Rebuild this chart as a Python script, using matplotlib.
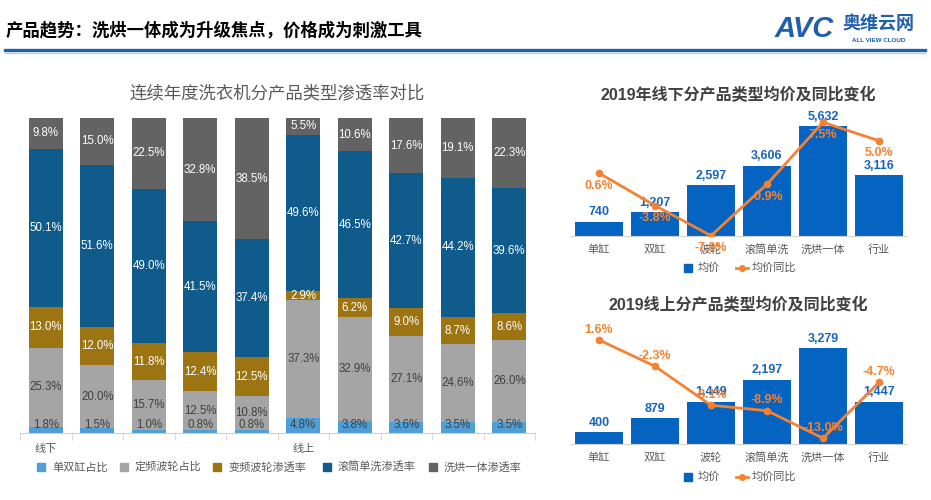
import matplotlib
matplotlib.use('Agg')
import matplotlib.pyplot as plt
from matplotlib.patches import Rectangle
from matplotlib.lines import Line2D

plt.rcParams['font.family'] = ['Liberation Sans', 'Noto Sans CJK SC']

# ---------------- data ----------------
groups = ['线下', '', '', '', '', '线上', '', '', '', '']
series_names = ['单双缸占比', '定频波轮占比', '变频波轮渗透率', '滚筒单洗渗透率', '洗烘一体渗透率']
twin_tub = [1.8, 1.5, 1.0, 0.8, 0.8, 4.8, 3.8, 3.6, 3.5, 3.5]
fixed_pulsator = [25.3, 20.0, 15.7, 12.5, 10.8, 37.3, 32.9, 27.1, 24.6, 26.0]
inverter_pulsator = [13.0, 12.0, 11.8, 12.4, 12.5, 2.9, 6.2, 9.0, 8.7, 8.6]
drum_wash = [50.1, 51.6, 49.0, 41.5, 37.4, 49.6, 46.5, 42.7, 44.2, 39.6]
washer_dryer = [9.8, 15.0, 22.5, 32.8, 38.5, 5.5, 10.6, 17.6, 19.1, 22.3]

price_cats = ['单缸', '双缸', '波轮', '滚筒单洗', '洗烘一体', '行业']
offline_price = [740, 1207, 2597, 3606, 5632, 3116]
offline_yoy = [0.6, -3.8, -7.9, -0.9, 7.5, 5.0]
online_price = [400, 879, 1449, 2197, 3279, 1447]
online_yoy = [1.6, -2.3, -8.1, -8.9, -13.0, -4.7]

W, H = 931, 500
fig = plt.figure(figsize=(W / 100, H / 100), dpi=100)
fig.patch.set_facecolor('white')


def fx(x):
    return x / W


def fy(y):
    return 1 - y / H


# ---------------- header ----------------
fig.text(fx(6), fy(30), '产品趋势：洗烘一体成为升级焦点，价格成为刺激工具',
         fontsize=12.5, fontweight='bold', color='black', ha='left', va='center')
fig.add_artist(Line2D([fx(5), fx(925)], [fy(50), fy(50)], color='#1F5FAD', lw=2.4))
fig.add_artist(Line2D([fx(5), fx(925)], [fy(52.5), fy(52.5)], color='#B8CDE8', lw=1.0))
fig.text(fx(775), fy(29), 'AVC', fontsize=21, fontweight='bold', fontstyle='italic',
         color='#1F5FAD', ha='left', va='center')
fig.text(fx(842), fy(24), '奥维云网', fontsize=13, fontweight='bold',
         color='#1F5FAD', ha='left', va='center')
fig.text(fx(852), fy(41), 'ALL VIEW CLOUD', fontsize=4.5, fontweight='bold',
         color='#1F5FAD', ha='left', va='center')

# ---------------- main stacked chart ----------------
colors = ['#4E9FD8', '#A5A5A5', '#9C7412', '#0F5B8C', '#636363']
label_colors = ['#404040', '#404040', 'white', 'white', 'white']
series = [twin_tub, fixed_pulsator, inverter_pulsator, drum_wash, washer_dryer]

ax = fig.add_axes([fx(20), fy(433), 515 / W, 315 / H])
x = list(range(len(groups)))
bottom = [0.0] * len(groups)
for si, (vals, c) in enumerate(zip(series, colors)):
    ax.bar(x, vals, bottom=bottom, width=0.66, color=c, zorder=2)
    for i, v in enumerate(vals):
        yc = bottom[i] + v / 2
        if si == 0:
            yc = max(v / 2, 2.6)
        ax.text(i, yc, f'{v:.1f}%', ha='center', va='center', fontsize=8.3,
                color=label_colors[si], zorder=3)
    bottom = [b + v for b, v in zip(bottom, vals)]

ax.set_xlim(-0.5, len(groups) - 0.5)
ax.set_ylim(0, 100)
for s in ['top', 'right', 'left']:
    ax.spines[s].set_visible(False)
ax.spines['bottom'].set_color('#D0D0D0')
ax.set_yticks([])
ax.set_xticks(x)
ax.set_xticklabels(groups, fontsize=8, color='#595959')
ax.tick_params(axis='x', length=0, pad=8)
ax.set_xticks([i - 0.5 for i in range(len(groups) + 1)], minor=True)
ax.tick_params(axis='x', which='minor', length=5, color='#D0D0D0')

fig.text(fx(277), fy(93), '连续年度洗衣机分产品类型渗透率对比', fontsize=12.5,
         color='#595959', ha='center', va='center')

leg_x = [37, 120, 213, 323, 429]
for lx, name, c in zip(leg_x, series_names, colors):
    fig.add_artist(Rectangle((fx(lx), fy(471)), 8 / W, 8 / H, color=c,
                             transform=fig.transFigure))
    fig.text(fx(lx + 15), fy(467), name, fontsize=8, color='#595959',
             ha='left', va='center')


# ---------------- price charts ----------------
def price_chart(top_px, bottom_px, title, title_y, prices, yoy, ymax, y2lim,
                lab_off, legend_y):
    a = fig.add_axes([fx(571), fy(bottom_px), 336 / W, (bottom_px - top_px) / H])
    xs = list(range(len(price_cats)))
    a.bar(xs, prices, width=0.84, color='#0563C1', zorder=2)
    for i, p in enumerate(prices):
        a.annotate(f'{p:,}', (i, p), xytext=(0, 2.5), textcoords='offset points',
                   ha='center', va='bottom', fontsize=9, fontweight='bold',
                   color='#1565C0')
    a.set_xlim(-0.5, len(price_cats) - 0.5)
    a.set_ylim(0, ymax)
    for s in ['top', 'right', 'left']:
        a.spines[s].set_visible(False)
    a.spines['bottom'].set_color('#D0D0D0')
    a.set_yticks([])
    a.set_xticks(xs)
    a.set_xticklabels(price_cats, fontsize=8, color='#595959')
    a.tick_params(axis='x', length=0, pad=6)

    a2 = a.twinx()
    a2.plot(xs, yoy, color='#F58232', lw=2, marker='o', ms=4.5, zorder=3)
    a2.set_ylim(*y2lim)
    a2.set_yticks([])
    for s in ['top', 'right', 'left', 'bottom']:
        a2.spines[s].set_visible(False)
    for i, v in enumerate(yoy):
        a2.annotate(f'{v:.1f}%', (i, v), xytext=(0, lab_off), textcoords='offset points',
                    ha='center', va='center', fontsize=9, fontweight='bold',
                    color='#F58232')

    fig.text(fx(738), fy(title_y), title, fontsize=11.5, fontweight='bold',
             color='#404040', ha='center', va='center')
    fig.add_artist(Rectangle((fx(684), fy(legend_y + 4)), 8 / W, 8 / H,
                             color='#0563C1', transform=fig.transFigure))
    fig.text(fx(698), fy(legend_y), '均价', fontsize=8, color='#595959',
             ha='left', va='center')
    fig.add_artist(Line2D([fx(736), fx(748)], [fy(legend_y), fy(legend_y)],
                          color='#F58232', lw=2, transform=fig.transFigure))
    fig.add_artist(Line2D([fx(742)], [fy(legend_y)], color='#F58232', marker='o',
                          ms=4, transform=fig.transFigure))
    fig.text(fx(752), fy(legend_y), '均价同比', fontsize=8, color='#595959',
             ha='left', va='center')


price_chart(110, 236, '2019年线下分产品类型均价及同比变化', 95,
            offline_price, offline_yoy, 6451, (-7.94, 9.18), -9, 268)
price_chart(320, 444, '2019线上分产品类型均价及同比变化', 305,
            online_price, online_yoy, 4236, (-13.85, 4.57), 7.5, 477)

fig.savefig('out.png', dpi=100, facecolor='white')
